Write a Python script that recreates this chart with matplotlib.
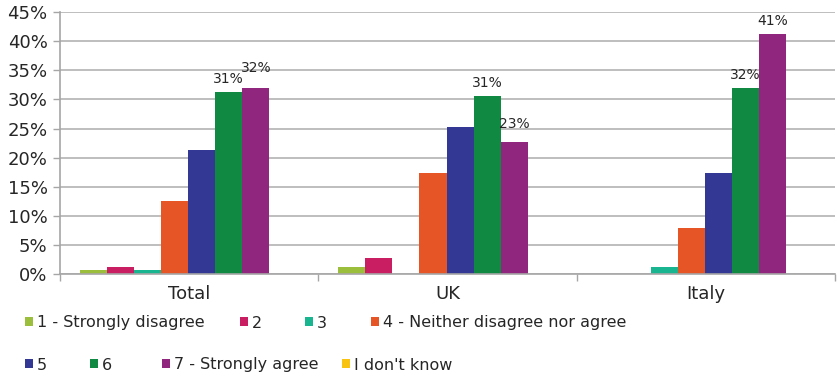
import numpy as np
import matplotlib.pyplot as plt
from matplotlib.ticker import FuncFormatter

# data (percent)
groups = ['Total', 'UK', 'Italy']
series = ['1 - Strongly disagree', '2', '3', '4 - Neither disagree nor agree',
          '5', '6', '7 - Strongly agree', "I don't know"]
s1 = [0.7, 1.3, 0.0]
s2 = [1.3, 2.7, 0.0]
s3 = [0.7, 0.0, 1.3]
s4 = [12.6, 17.3, 7.9]
s5 = [21.3, 25.3, 17.3]
s6 = [31.3, 30.6, 32.0]
s7 = [32.0, 22.6, 41.3]
s8 = [0.0, 0.0, 0.0]
values = [s1, s2, s3, s4, s5, s6, s7, s8]
colors = ['#9bbf3c', '#c91f62', '#19b590', '#e65525',
          '#333894', '#108a43', '#91267f', '#f9c312']
labelled = [5, 6]  # series with value labels
# extra label lift (points) where excel nudged labels apart
label_lift = {(6, 0): 5, (6, 1): 4}

plt.rcParams['font.family'] = 'DejaVu Sans'
fig = plt.figure(figsize=(8.38, 3.77), dpi=100)
ax = fig.add_axes([0.0716, 0.273, 0.9248, 0.695])

x = np.arange(len(groups))
w = 0.1047
start = -0.5 + 0.0775
bars = []
for i, vals in enumerate(values):
    pos = x + start + w * (i + 0.5)
    b = ax.bar(pos, vals, w, color=colors[i], linewidth=0,
               label=series[i], zorder=3)
    bars.append(b)
    if i in labelled:
        for j, (px, v) in enumerate(zip(pos, vals)):
            dy = 4 + label_lift.get((i, j), 0)
            ax.annotate('%d%%' % round(v), (px, v), xytext=(0, dy),
                        textcoords='offset points', ha='center', va='bottom',
                        fontsize=10, color='#262626')

ax.set_xlim(-0.5, 2.5)
ax.set_ylim(0, 45)
ax.set_yticks(np.arange(0, 46, 5))
ax.yaxis.set_major_formatter(FuncFormatter(lambda v, p: '%d%%' % v))
ax.grid(axis='y', color='#b3b3b3', linewidth=1.2, zorder=0)

ax.set_xticks([-0.5, 0.5, 1.5, 2.5])
ax.set_xticklabels([])
ax.set_xticks(x, minor=True)
ax.set_xticklabels(groups, minor=True, fontsize=13, color='#262626')
ax.tick_params(axis='x', which='major', length=5, color='#a6a6a6', width=1)
ax.tick_params(axis='x', which='minor', length=0, pad=8)
ax.tick_params(axis='y', length=5, color='#a6a6a6', width=1, labelsize=13,
               labelcolor='#262626', pad=4)

for side in ['top', 'right']:
    ax.spines[side].set_visible(False)
for side in ['left', 'bottom']:
    ax.spines[side].set_color('#a6a6a6')
    ax.spines[side].set_linewidth(1.2)
    ax.spines[side].set_zorder(4)

# legend entries laid out like the excel legend (two rows, free flow)
legend_x = [25, 240, 305, 371, 25, 90, 162, 342]
legend_y = [323, 323, 323, 323, 365, 365, 365, 365]
for i, b in enumerate(bars):
    leg = fig.legend([b[0]], [series[i]], loc='center left',
                     bbox_to_anchor=(legend_x[i] / 838, 1 - legend_y[i] / 377),
                     frameon=False, fontsize=11.5, handlelength=0.5,
                     handleheight=0.5, handletextpad=0.25, borderaxespad=0,
                     borderpad=0)
    leg.get_texts()[0].set_color('#262626')

fig.savefig('out.png', dpi=100)
